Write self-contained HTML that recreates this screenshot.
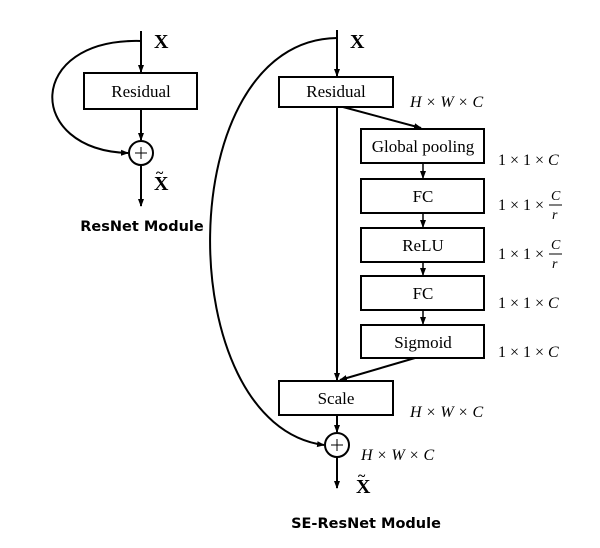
<!DOCTYPE html>
<html><head><style>body{margin:0;background:#fff}</style></head><body>
<svg width="600" height="543" viewBox="0 0 600 543" xmlns="http://www.w3.org/2000/svg" font-family="Liberation Serif, serif">
<defs><marker id="a" markerWidth="8" markerHeight="8" refX="7" refY="4" orient="auto" markerUnits="userSpaceOnUse"><path d="M0,1 L8,4 L0,7z" fill="#000"/></marker></defs>
<g stroke="#000" stroke-width="2" fill="none">
<!-- left -->
<line x1="141" y1="31" x2="141" y2="72" marker-end="url(#a)"/>
<rect x="84" y="73" width="113" height="36" fill="#fff"/>
<line x1="141" y1="109" x2="141" y2="140" marker-end="url(#a)"/>
<circle cx="141" cy="153" r="12"/>
<path d="M141,41 C25,38 25,150 128,153" marker-end="url(#a)"/>
<line x1="141" y1="165" x2="141" y2="206" marker-end="url(#a)"/>
<!-- right -->
<line x1="337" y1="30" x2="337" y2="76" marker-end="url(#a)"/>
<rect x="279" y="77" width="114" height="30" fill="#fff"/>
<line x1="337" y1="107" x2="337" y2="380" marker-end="url(#a)"/>
<line x1="343" y1="107" x2="421" y2="128" marker-end="url(#a)"/>
<rect x="361" y="129" width="123" height="34"/>
<rect x="361" y="179" width="123" height="34"/>
<rect x="361" y="228" width="123" height="34"/>
<rect x="361" y="276" width="123" height="34"/>
<rect x="361" y="325" width="123" height="33"/>
<line x1="423" y1="163" x2="423" y2="178" stroke-width="1.5" marker-end="url(#a)"/>
<line x1="423" y1="213" x2="423" y2="227" stroke-width="1.5" marker-end="url(#a)"/>
<line x1="423" y1="262" x2="423" y2="275" stroke-width="1.5" marker-end="url(#a)"/>
<line x1="423" y1="310" x2="423" y2="324" stroke-width="1.5" marker-end="url(#a)"/>
<line x1="415" y1="358" x2="340" y2="380" marker-end="url(#a)"/>
<rect x="279" y="381" width="114" height="34" fill="#fff"/>
<line x1="337" y1="415" x2="337" y2="432" marker-end="url(#a)"/>
<circle cx="337" cy="445" r="12"/>
<path d="M337,38 C170,40 170,425 324,445" marker-end="url(#a)"/>
<line x1="337" y1="457" x2="337" y2="488" marker-end="url(#a)"/>
<g stroke-width="1">
<line x1="135" y1="153" x2="147" y2="153"/><line x1="141" y1="147" x2="141" y2="159"/>
<line x1="331" y1="445" x2="343" y2="445"/><line x1="337" y1="439" x2="337" y2="451"/>
</g>
</g>
<g font-size="17" text-anchor="middle">
<text x="141" y="97">Residual</text>
<text x="336" y="97">Residual</text>
<text x="423" y="152">Global pooling</text>
<text x="423" y="202">FC</text>
<text x="423" y="251">ReLU</text>
<text x="423" y="299">FC</text>
<text x="423" y="348">Sigmoid</text>
<text x="336" y="404">Scale</text>
</g>
<g font-size="20" font-weight="bold">
<text x="154" y="48">X</text>
<text x="154" y="190">X</text><text x="156" y="177" font-size="14">~</text>
<text x="350" y="48">X</text>
<text x="356" y="493">X</text><text x="358" y="480" font-size="14">~</text>
</g>
<g font-size="16" font-style="italic">
<text x="410" y="107">H × W × C</text>
<text x="410" y="417">H × W × C</text>
<text x="361" y="460">H × W × C</text>
</g>
<g font-size="16">
<text x="498" y="165">1 × 1 × <tspan font-style="italic">C</tspan></text>
<text x="498" y="210">1 × 1 ×</text>
<text x="551" y="200" font-style="italic" font-size="14">C</text><line x1="549" y1="205" x2="562" y2="205" stroke="#000"/><text x="552" y="219" font-style="italic" font-size="14">r</text>
<text x="498" y="259">1 × 1 ×</text>
<text x="551" y="249" font-style="italic" font-size="14">C</text><line x1="549" y1="254" x2="562" y2="254" stroke="#000"/><text x="552" y="268" font-style="italic" font-size="14">r</text>
<text x="498" y="308">1 × 1 × <tspan font-style="italic">C</tspan></text>
<text x="498" y="357">1 × 1 × <tspan font-style="italic">C</tspan></text>
</g>
<g font-family="DejaVu Sans, sans-serif" font-weight="bold" font-size="14.5" text-anchor="middle">
<text x="142" y="231">ResNet Module</text>
<text x="366" y="528">SE-ResNet Module</text>
</g>
</svg>
</body></html>
